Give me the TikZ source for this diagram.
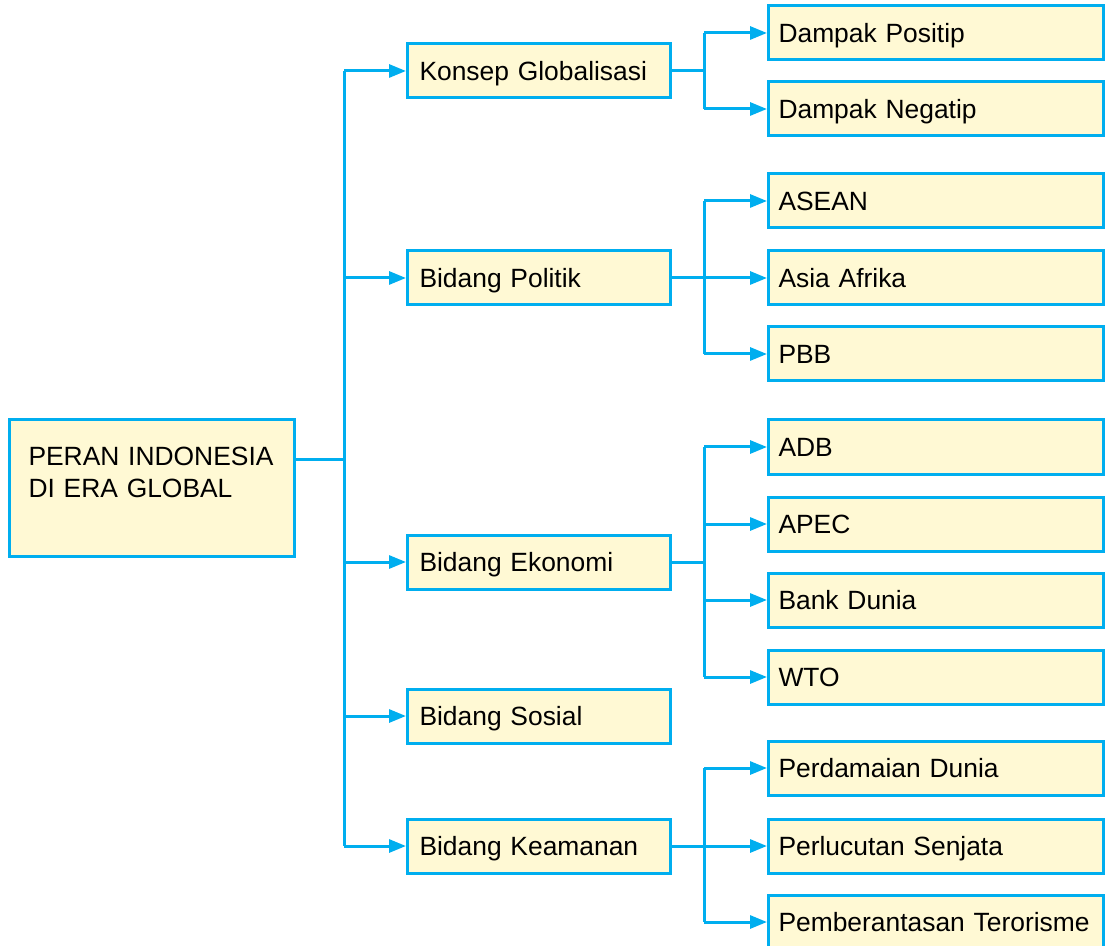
\documentclass[tikz,border=0pt]{standalone}
\usepackage{fontspec}
\setmainfont{Liberation Sans}
\usetikzlibrary{arrows.meta}
\definecolor{garisbiru}{HTML}{00AEEF}
\definecolor{isikuning}{HTML}{FFF9D4}

\begin{document}
\begin{tikzpicture}[x=0.5pt,y=-0.5pt]
% Gaya kotak dan garis
\tikzstyle{kotak} = [rectangle, draw=garisbiru, fill=isikuning, line width=1.5pt, align=left, anchor=west, font=\fontsize{13.2}{16}\selectfont]
\tikzstyle{akar} = [kotak, minimum height=68pt, inner xsep=9.5pt, text width=123.5pt]
\tikzstyle{topik} = [kotak, minimum height=27pt, inner xsep=6pt, text width=119.5pt, text height=9.5pt, text depth=0pt]
\tikzstyle{butir} = [kotak, minimum height=27pt, inner xsep=5pt, text width=157.5pt, text height=9.5pt, text depth=0pt]
\tikzstyle{garis} = [draw=garisbiru, line width=1.5pt]
\tikzstyle{panah} = [garis, -{Triangle[length=8.5pt,width=6.5pt]}]

\useasboundingbox (0,0) rectangle (1108,946);

% Kotak utama
\node[akar] (peran) at (8,488) {PERAN~INDONESIA\\DI ERA GLOBAL\\\mbox{}};

% Bidang
\node[topik] (konsep) at (406,71) {Konsep Globalisasi};
\node[topik] (politik) at (406,278) {Bidang Politik};
\node[topik] (ekonomi) at (406,562) {Bidang Ekonomi};
\node[topik] (sosial) at (406,716) {Bidang Sosial};
\node[topik] (keamanan) at (406,846) {Bidang Keamanan};

% Rincian
\node[butir] (positip) at (767,33) {Dampak Positip};
\node[butir] (negatip) at (767,109) {Dampak Negatip};
\node[butir] (asean) at (767,201) {ASEAN};
\node[butir] (asiaafrika) at (767,278) {Asia Afrika};
\node[butir] (pbb) at (767,354) {PBB};
\node[butir] (adb) at (767,447) {ADB};
\node[butir] (apec) at (767,524) {APEC};
\node[butir] (bankdunia) at (767,600) {Bank Dunia};
\node[butir] (wto) at (767,677) {WTO};
\node[butir] (perdamaian) at (767,768) {Perdamaian Dunia};
\node[butir] (perlucutan) at (767,846) {Perlucutan Senjata};
\node[butir] (teror) at (767,922) {Pemberantasan Terorisme};

% Titik cabang
\coordinate (batang) at (344,459);
\coordinate (cabkonsep) at (704,71);
\coordinate (cabpolitik) at (704,278);
\coordinate (cabekonomi) at (704,562);
\coordinate (cabkeamanan) at (704,846);

% Batang utama
\draw[garis] (batang -| peran.east) -- (batang);
\draw[garis] (batang |- konsep) -- (batang |- keamanan);
\foreach \b in {konsep,politik,ekonomi,sosial,keamanan}
  \draw[panah] (batang |- \b) -- (\b);

% Cabang tiap bidang
\draw[garis] (konsep) -- (cabkonsep);
\draw[garis] (cabkonsep |- positip) -- (cabkonsep |- negatip);
\foreach \r in {positip,negatip}
  \draw[panah] (cabkonsep |- \r) -- (\r);

\draw[garis] (politik) -- (cabpolitik);
\draw[garis] (cabpolitik |- asean) -- (cabpolitik |- pbb);
\foreach \r in {asean,asiaafrika,pbb}
  \draw[panah] (cabpolitik |- \r) -- (\r);

\draw[garis] (ekonomi) -- (cabekonomi);
\draw[garis] (cabekonomi |- adb) -- (cabekonomi |- wto);
\foreach \r in {adb,apec,bankdunia,wto}
  \draw[panah] (cabekonomi |- \r) -- (\r);

\draw[garis] (keamanan) -- (cabkeamanan);
\draw[garis] (cabkeamanan |- perdamaian) -- (cabkeamanan |- teror);
\foreach \r in {perdamaian,perlucutan,teror}
  \draw[panah] (cabkeamanan |- \r) -- (\r);
\end{tikzpicture}
\end{document}
